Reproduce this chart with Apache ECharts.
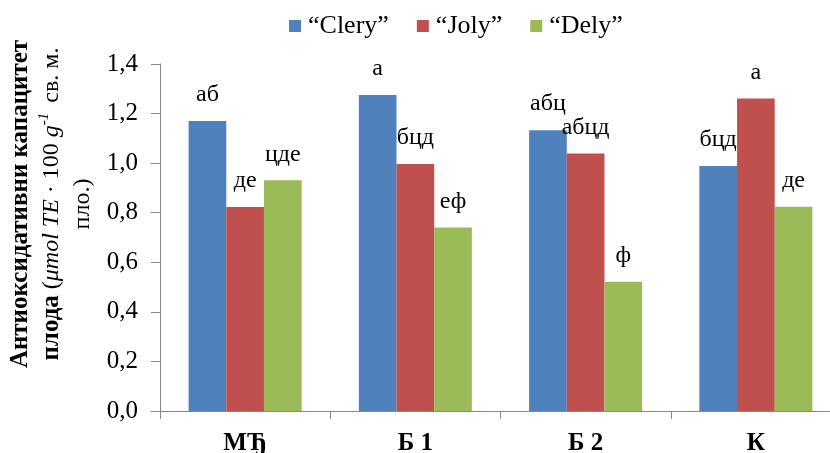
<!DOCTYPE html>
<html><head><meta charset="utf-8">
<script src="https://cdn.jsdelivr.net/npm/echarts@6/dist/echarts.min.js"></script>
<style>html,body{margin:0;padding:0;background:#fff}#c{width:830px;height:453px}</style>
</head><body><div id="c"></div>
<script>
var categories = ['МЂ', 'Б 1', 'Б 2', 'К'];
var seriesNames = ['“Clery”', '“Joly”', '“Dely”'];
var clery = [1.17, 1.275, 1.133, 0.988];
var joly = [0.823, 0.997, 1.039, 1.261];
var dely = [0.931, 0.74, 0.521, 0.824];
var cleryLetters = ['аб', 'а', 'абц', 'бцд'];
var jolyLetters = ['де', 'бцд', 'абцд', 'а'];
var delyLetters = ['цде', 'еф', 'ф', 'де'];
var yTicks = [0, 0.2, 0.4, 0.6, 0.8, 1.0, 1.2, 1.4];

var colors = ['#4F81BD', '#C0504D', '#9BBB59'];
var serif = 'Liberation Serif';

function mk(name, vals, letters, color) {
  return {
    name: name, type: 'bar', data: vals, barGap: '0%', barCategoryGap: '33.6%',
    itemStyle: { color: color },
    label: {
      show: true, position: 'top', distance: 14,
      formatter: function (p) { return letters[p.dataIndex]; },
      fontFamily: serif, fontSize: 24, color: '#000'
    }
  };
}

var chart = echarts.init(document.getElementById('c'), null, { renderer: 'canvas' });
chart.setOption({
  animation: false,
  color: colors,
  legend: {
    top: 8, left: 284, itemWidth: 12, itemHeight: 12, itemGap: 28,
    icon: 'rect',
    textStyle: { fontFamily: serif, fontSize: 26, color: '#000', padding: [0, 0, 0, 2] },
    data: seriesNames
  },
  grid: { left: 160, right: -11, top: 64, bottom: 42, outerBoundsMode: 'none', containLabel: false },
  xAxis: {
    type: 'category', data: categories,
    axisLine: { lineStyle: { color: '#888', width: 1 } },
    axisTick: { show: true, length: 8, lineStyle: { color: '#888' } },
    axisLabel: { fontFamily: serif, fontSize: 25, fontWeight: 'bold', color: '#000', margin: 20 }
  },
  yAxis: {
    type: 'value', min: yTicks[0], max: yTicks[yTicks.length - 1], interval: 0.2,
    axisLine: { show: true, lineStyle: { color: '#888', width: 1 } },
    axisTick: { show: true, length: 9, lineStyle: { color: '#888' } },
    splitLine: { show: false },
    axisLabel: {
      fontFamily: serif, fontSize: 25, color: '#000', margin: 22,
      formatter: function (v) { return v.toFixed(1).replace('.', ','); }
    }
  },
  graphic: [{
    type: 'text', x: 52, y: 204, rotation: Math.PI / 2,
    style: {
      text: '{b|Антиоксидативни капацитет}\n{b|плода}{n| (}{i|μmol TE}{n| · 100 }{i|g}{s|-1}{n| св. м.}\n{n|пло.)}',
      align: 'center', verticalAlign: 'middle',
      fontFamily: serif, fill: '#000',
      rich: {
        b: { fontFamily: serif, fontSize: 25, fontWeight: 'bold', lineHeight: 31, fill: '#000' },
        n: { fontFamily: serif, fontSize: 24, lineHeight: 31, fill: '#000' },
        i: { fontFamily: serif, fontSize: 24, fontStyle: 'italic', lineHeight: 31, fill: '#000' },
        s: { fontFamily: serif, fontSize: 15, fontStyle: 'italic', lineHeight: 31, verticalAlign: 'top', fill: '#000', padding: [0, 4, 10, 0] }
      }
    }
  }],
  series: [
    mk(seriesNames[0], clery, cleryLetters, colors[0]),
    mk(seriesNames[1], joly, jolyLetters, colors[1]),
    mk(seriesNames[2], dely, delyLetters, colors[2])
  ]
});
</script></body></html>
